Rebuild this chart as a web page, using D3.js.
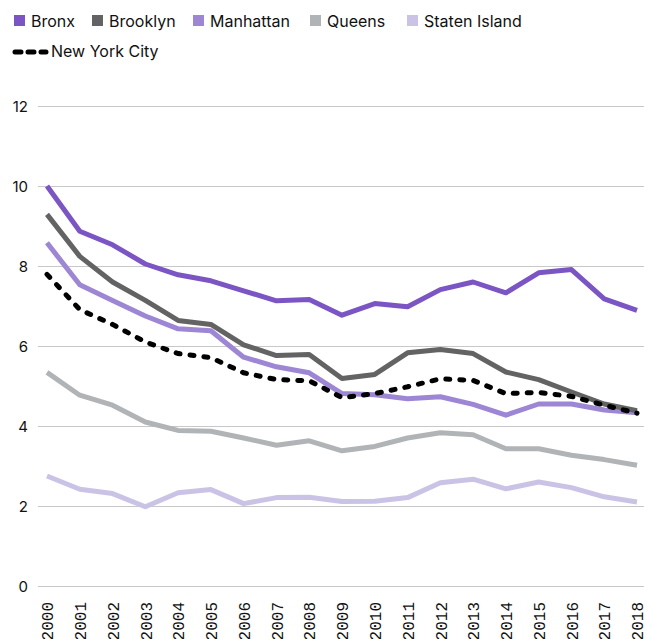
<!DOCTYPE html>
<html>
<head>
<meta charset="utf-8">
<script src="https://cdn.jsdelivr.net/npm/d3@7"></script>
<style>
  body { margin: 0; background: #fff; }
  svg { display: block; }
  .legend text { font-family: Inter, "Noto Sans", sans-serif; font-size: 16px; fill: #111; }
  .y-axis text { font-family: Inter, "Noto Sans", sans-serif; font-size: 15px; fill: #111; }
  .x-axis text { font-family: "Liberation Mono", "DejaVu Sans Mono", monospace; font-size: 16px; fill: #111; }
</style>
</head>
<body>
<script>
  const years = d3.range(2000, 2019);

  const bronx = [10.0, 8.87, 8.53, 8.05, 7.78, 7.63, 7.38, 7.13, 7.16, 6.77, 7.06, 6.98, 7.41, 7.6, 7.33, 7.83, 7.91, 7.18, 6.89];
  const brooklyn = [9.29, 8.24, 7.6, 7.14, 6.64, 6.54, 6.03, 5.76, 5.79, 5.19, 5.29, 5.83, 5.91, 5.81, 5.35, 5.16, 4.85, 4.55, 4.38];
  const manhattan = [8.58, 7.53, 7.14, 6.75, 6.43, 6.38, 5.72, 5.48, 5.33, 4.81, 4.78, 4.68, 4.73, 4.54, 4.27, 4.55, 4.55, 4.4, 4.33];
  const queens = [5.34, 4.77, 4.52, 4.1, 3.89, 3.87, 3.7, 3.52, 3.63, 3.38, 3.49, 3.7, 3.83, 3.78, 3.43, 3.43, 3.27, 3.16, 3.02];
  const statenIsland = [2.75, 2.42, 2.31, 1.98, 2.33, 2.41, 2.06, 2.21, 2.22, 2.11, 2.12, 2.21, 2.58, 2.67, 2.43, 2.6, 2.46, 2.23, 2.1];
  const nyc = [7.79, 6.91, 6.54, 6.1, 5.81, 5.71, 5.33, 5.16, 5.13, 4.71, 4.81, 4.98, 5.18, 5.14, 4.81, 4.84, 4.74, 4.52, 4.32];

  const yTicks = [0, 2, 4, 6, 8, 10, 12];

  const boroughs = [
    {name: 'Bronx', values: bronx, color: '#7b55c4'},
    {name: 'Brooklyn', values: brooklyn, color: '#636363'},
    {name: 'Manhattan', values: manhattan, color: '#9d86d4'},
    {name: 'Queens', values: queens, color: '#b1b4b6'},
    {name: 'Staten Island', values: statenIsland, color: '#cbc3e6'}
  ];

  const width = 654;
  const height = 639;

  const x = d3.scalePoint().domain(years).range([47, 637]);
  const y = d3.scaleLinear().domain([0, 12]).range([586, 106]);

  const svg = d3.select('body')
    .append('svg')
    .attr('width', width)
    .attr('height', height);

  // grid + y labels
  const yAxis = svg.append('g')
    .attr('class', 'y-axis')
    .attr('transform', 'translate(38,0)')
    .call(d3.axisRight(y).tickValues(yTicks).tickSize(606).tickFormat(d3.format('d')));
  yAxis.select('.domain').remove();
  yAxis.selectAll('line').attr('stroke', '#c8c8c8').attr('stroke-width', 1);
  yAxis.selectAll('text')
    .attr('x', -10)
    .attr('dy', '0.35em')
    .attr('text-anchor', 'end');

  // x labels
  const xAxis = svg.append('g')
    .attr('class', 'x-axis')
    .attr('transform', 'translate(0,602)')
    .call(d3.axisBottom(x).tickSize(0).tickFormat(d3.format('d')));
  xAxis.select('.domain').remove();
  xAxis.selectAll('text')
    .attr('transform', 'rotate(-90)')
    .attr('x', 0)
    .attr('y', 0)
    .attr('dy', '0.36em')
    .attr('text-anchor', 'end');

  const line = d3.line()
    .x((d, i) => x(years[i]))
    .y(d => y(d));

  // lighter series underneath
  svg.append('g')
    .selectAll('path')
    .data(boroughs.slice().reverse())
    .enter()
    .append('path')
    .attr('fill', 'none')
    .attr('stroke', d => d.color)
    .attr('stroke-width', 5)
    .attr('stroke-linejoin', 'round')
    .attr('d', d => line(d.values));

  svg.append('path')
    .attr('fill', 'none')
    .attr('stroke', '#000')
    .attr('stroke-width', 5)
    .attr('stroke-linecap', 'round')
    .attr('stroke-dasharray', '4,10')
    .attr('d', line(nyc));

  // legend
  const legendX = [14, 92, 193, 310, 407];
  const legend = svg.append('g').attr('class', 'legend');
  const item = legend.selectAll('g')
    .data(boroughs)
    .enter()
    .append('g')
    .attr('transform', (d, i) => `translate(${legendX[i]},0)`);
  item.append('rect')
    .attr('y', 15)
    .attr('width', 11)
    .attr('height', 11)
    .attr('fill', d => d.color);
  item.append('text')
    .attr('x', 17)
    .attr('y', 27)
    .text(d => d.name);

  legend.append('line')
    .attr('x1', 15).attr('x2', 46)
    .attr('y1', 52).attr('y2', 52)
    .attr('stroke', '#000')
    .attr('stroke-width', 5)
    .attr('stroke-linecap', 'round')
    .attr('stroke-dasharray', '6,7');
  legend.append('text')
    .attr('x', 51)
    .attr('y', 57)
    .text('New York City');
</script>
</body>
</html>
